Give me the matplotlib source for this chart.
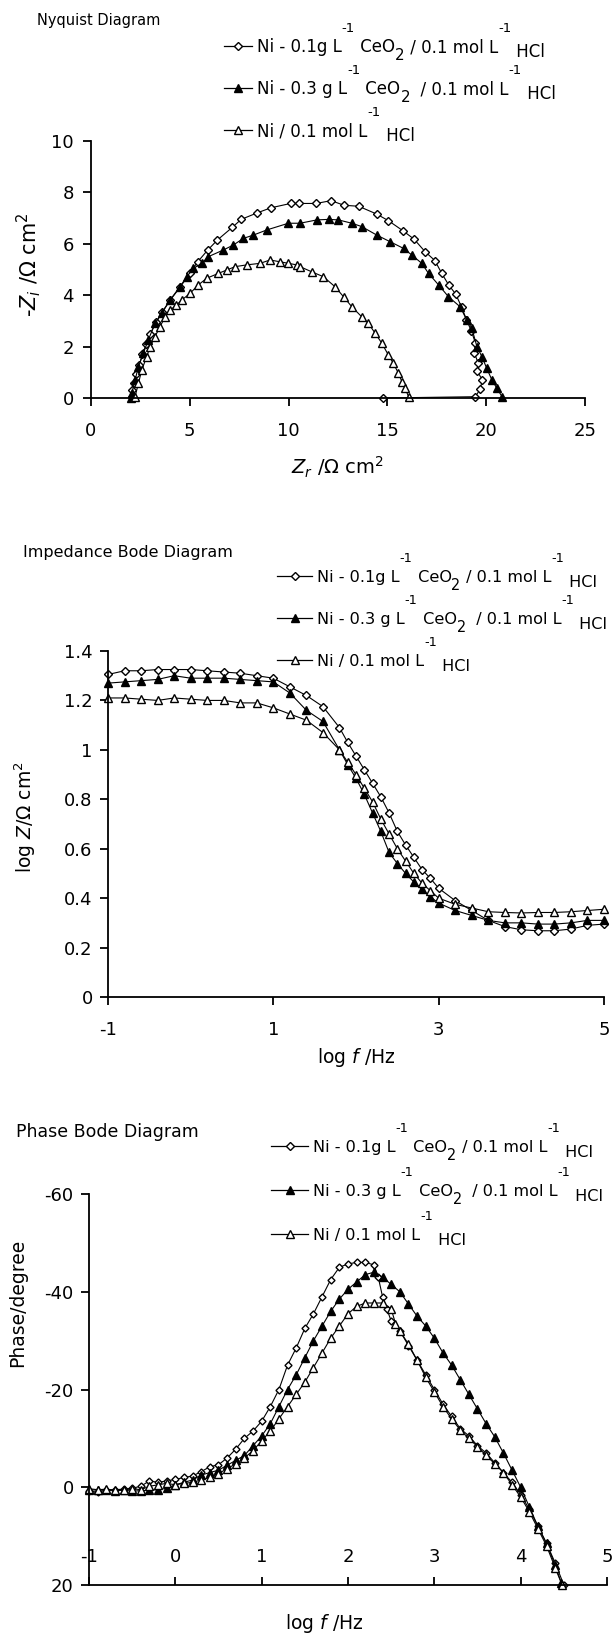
import matplotlib
matplotlib.use('Agg')
import matplotlib.pyplot as plt
from matplotlib.lines import Line2D

plt.rcParams['font.family'] = ['DejaVu Sans']
plt.rcParams['axes.unicode_minus'] = False

# ---------------- Nyquist : Zr et -Zi (ohm cm2) ----------------
nyq_zr_01 = [2.05, 2.1, 2.2, 2.3, 2.45, 2.6, 2.8, 3.0, 3.3, 3.6, 4.0, 4.5, 5.0, 5.4, 5.9, 6.4,
             7.15, 7.6, 8.4, 9.1, 10.1, 10.55, 11.4, 12.15, 12.8, 13.55, 14.45, 15.05, 15.8,
             16.35, 16.9, 17.4, 17.75, 18.1, 18.45, 18.75, 19.0, 19.25, 19.45, 19.4, 19.6,
             19.55, 19.8, 19.7, 19.45, 14.8]
nyq_zi_01 = [0.05, 0.3, 0.6, 0.95, 1.3, 1.7, 2.1, 2.5, 2.95, 3.35, 3.8, 4.3, 4.85, 5.3, 5.75,
             6.15, 6.64, 6.95, 7.2, 7.4, 7.57, 7.57, 7.57, 7.68, 7.5, 7.46, 7.16, 6.9, 6.5,
             6.18, 5.7, 5.35, 4.85, 4.4, 4.05, 3.55, 3.05, 2.6, 2.15, 1.75, 1.35, 1.05, 0.7,
             0.35, 0.05, 0.0]

nyq_zr_03 = [2.0, 2.06, 2.23, 2.4, 2.65, 2.9, 3.24, 3.58, 4.0, 4.5, 4.85, 5.18, 5.6, 5.94,
             6.7, 7.2, 7.71, 8.22, 8.9, 9.99, 10.58, 11.43, 12.02, 12.52, 13.2, 13.7, 14.46,
             15.14, 15.82, 16.24, 16.74, 17.08, 17.59, 18.09, 18.68, 19.02, 19.27, 19.53,
             19.78, 20.03, 20.29, 20.54, 20.8]
nyq_zi_03 = [0.0, 0.18, 0.7, 1.22, 1.74, 2.26, 2.9, 3.29, 3.81, 4.33, 4.72, 5.04, 5.24, 5.5,
             5.76, 5.95, 6.21, 6.34, 6.54, 6.8, 6.8, 6.93, 6.95, 6.93, 6.8, 6.67, 6.34, 6.08,
             5.82, 5.56, 5.24, 4.85, 4.4, 3.94, 3.55, 3.03, 2.72, 2.0, 1.61, 1.15, 0.7, 0.38,
             0.05]

nyq_zr_ni = [2.23, 2.4, 2.57, 2.82, 2.99, 3.24, 3.49, 3.75, 4.0, 4.3, 4.59, 5.01, 5.43, 5.86,
             6.45, 6.87, 7.29, 7.88, 8.56, 9.06, 9.57, 9.99, 10.41, 10.58, 11.17, 11.76,
             12.35, 12.78, 13.2, 13.7, 14.04, 14.38, 14.72, 15.05, 15.3, 15.56, 15.73, 15.9,
             16.07]
nyq_zi_ni = [0.05, 0.57, 1.09, 1.61, 2.0, 2.39, 2.77, 3.16, 3.42, 3.6, 3.81, 4.07, 4.4, 4.66,
             4.85, 4.98, 5.11, 5.18, 5.24, 5.37, 5.3, 5.24, 5.18, 5.11, 4.91, 4.72, 4.33,
             3.94, 3.55, 3.16, 2.9, 2.52, 2.13, 1.67, 1.35, 0.96, 0.64, 0.38, 0.05]

# ---------------- Bode impedance : log f et log |Z| ----------------
bode_logf = [-1.0, -0.8, -0.6, -0.4, -0.2, 0.0, 0.2, 0.4, 0.6, 0.8, 1.0, 1.2, 1.4, 1.6, 1.8,
             1.9, 2.0, 2.1, 2.2, 2.3, 2.4, 2.5, 2.6, 2.7, 2.8, 2.9, 3.0, 3.2, 3.4, 3.6, 3.8,
             4.0, 4.2, 4.4, 4.6, 4.8, 5.0]
bode_z_01 = [1.305, 1.32, 1.32, 1.325, 1.325, 1.325, 1.32, 1.315, 1.31, 1.30, 1.29, 1.255,
             1.22, 1.175, 1.09, 1.03, 0.975, 0.92, 0.865, 0.81, 0.745, 0.67, 0.615, 0.565,
             0.515, 0.48, 0.44, 0.39, 0.35, 0.31, 0.285, 0.272, 0.268, 0.268, 0.275, 0.29,
             0.295]
bode_z_03 = [1.27, 1.275, 1.28, 1.285, 1.30, 1.29, 1.29, 1.29, 1.285, 1.28, 1.275, 1.23,
             1.16, 1.115, 1.0, 0.94, 0.885, 0.82, 0.745, 0.67, 0.585, 0.54, 0.50, 0.465,
             0.435, 0.405, 0.38, 0.35, 0.33, 0.31, 0.30, 0.30, 0.295, 0.295, 0.30, 0.31, 0.31]
bode_z_ni = [1.21, 1.21, 1.205, 1.20, 1.21, 1.205, 1.20, 1.20, 1.19, 1.19, 1.17, 1.145,
             1.12, 1.07, 1.0, 0.95, 0.90, 0.845, 0.79, 0.72, 0.66, 0.60, 0.55, 0.50, 0.46,
             0.43, 0.40, 0.375, 0.36, 0.345, 0.342, 0.34, 0.342, 0.342, 0.345, 0.35, 0.355]

# ---------------- Bode phase : log f et phase (degres) ----------------
ph_logf_01 = [-1.0, -0.9, -0.8, -0.7, -0.6, -0.5, -0.4, -0.3, -0.2, -0.1, 0.0, 0.1, 0.2,
              0.3, 0.4, 0.5, 0.6, 0.7, 0.8, 0.9, 1.0, 1.1, 1.2, 1.3, 1.4, 1.5, 1.6, 1.7,
              1.8, 1.9, 2.0, 2.1, 2.2, 2.3, 2.35, 2.4, 2.45, 2.5, 2.6, 2.7, 2.8, 2.9, 3.0,
              3.1, 3.2, 3.3, 3.4, 3.5, 3.6, 3.7, 3.8, 3.9, 4.0, 4.1, 4.2, 4.3, 4.4, 4.5]
ph_01 = [0.8, 1.0, 0.6, 0.5, 0.4, 0.2, -0.2, -1.3, -1.0, -1.3, -1.6, -2.0, -2.3, -3.2, -4.2,
         -4.6, -6.0, -7.8, -10.0, -11.5, -13.5, -16.5, -20.0, -25.0, -28.5, -32.5, -35.5,
         -39.0, -42.5, -45.0, -45.7, -46.0, -46.0, -45.5, -43.0, -39.0, -36.5, -34.0, -32.0,
         -29.0, -26.0, -23.0, -20.0, -17.0, -14.5, -12.0, -10.5, -8.5, -7.0, -5.0, -3.0,
         -1.0, 1.5, 4.5, 8.0, 11.5, 15.5, 20.0]

ph_logf_03 = [-1.0, -0.9, -0.8, -0.7, -0.6, -0.5, -0.4, -0.3, -0.2, -0.1, 0.0, 0.1, 0.2,
              0.3, 0.4, 0.5, 0.6, 0.7, 0.8, 0.9, 1.0, 1.1, 1.2, 1.3, 1.4, 1.5, 1.6, 1.7,
              1.8, 1.9, 2.0, 2.1, 2.2, 2.3, 2.4, 2.5, 2.6, 2.7, 2.8, 2.9, 3.0, 3.1, 3.2,
              3.3, 3.4, 3.5, 3.6, 3.7, 3.8, 3.9, 4.0, 4.1, 4.2, 4.3, 4.4, 4.47]
ph_03 = [0.5, 0.6, 0.5, 0.7, 0.6, 0.8, 0.7, 0.6, 0.5, 0.2, -0.5, -1.0, -1.5, -2.5, -3.0,
         -3.5, -4.5, -5.5, -6.5, -8.5, -10.5, -13.0, -16.5, -20.0, -23.0, -26.5, -30.0,
         -33.0, -36.0, -38.5, -40.5, -42.0, -43.5, -44.0, -43.0, -41.5, -40.0, -37.5,
         -35.0, -33.0, -30.5, -27.5, -25.0, -22.0, -19.0, -16.0, -13.0, -10.3, -7.0, -3.5,
         0.0, 4.0, 8.0, 11.5, 16.0, 19.5]

ph_logf_ni = [-1.0, -0.9, -0.8, -0.7, -0.6, -0.5, -0.4, -0.3, -0.2, -0.1, 0.0, 0.1, 0.2,
              0.3, 0.4, 0.5, 0.6, 0.7, 0.8, 0.9, 1.0, 1.1, 1.2, 1.3, 1.4, 1.5, 1.6, 1.7,
              1.8, 1.9, 2.0, 2.1, 2.2, 2.3, 2.4, 2.5, 2.55, 2.6, 2.7, 2.8, 2.9, 3.0, 3.1,
              3.2, 3.3, 3.4, 3.5, 3.6, 3.7, 3.8, 3.9, 4.0, 4.1, 4.2, 4.3, 4.4, 4.48]
ph_ni = [0.3, 0.5, 0.4, 0.6, 0.5, 0.3, 0.5, -0.2, -0.5, -0.8, -0.5, -0.8, -1.0, -1.5, -2.0,
         -2.8, -3.8, -4.8, -6.0, -7.5, -9.5, -11.5, -14.0, -16.5, -19.0, -21.5, -24.5,
         -27.5, -30.5, -33.0, -35.5, -37.0, -37.7, -37.7, -37.7, -36.5, -33.5, -32.0,
         -29.3, -26.0, -22.5, -19.5, -16.5, -14.0, -11.7, -10.0, -8.3, -6.5, -4.8, -3.0,
         -0.5, 2.0, 5.0, 8.5, 12.0, 16.5, 20.0]

# styles des trois series
styles = {
    '01': dict(marker='D', markerfacecolor='white', markeredgecolor='black'),
    '03': dict(marker='^', markerfacecolor='black', markeredgecolor='black'),
    'ni': dict(marker='^', markerfacecolor='white', markeredgecolor='black'),
}
msize = {'01': 4.2, '03': 6.0, 'ni': 6.0}

W, H = 612, 1635
fig = plt.figure(figsize=(W / 100, H / 100), dpi=100)


def box(left, top, right, bottom):
    # rectangle en pixels -> coordonnees figure
    return [left / W, 1 - bottom / H, (right - left) / W, (bottom - top) / H]


def excel_axes(ax, xpad=11.5, ypad=5.5):
    for s in ['top', 'right']:
        ax.spines[s].set_visible(False)
    for s in ['left', 'bottom']:
        ax.spines[s].set_linewidth(1.3)
    ax.tick_params(direction='out', length=5.5, width=1.3, labelsize=13)
    ax.tick_params(axis='x', pad=xpad)
    ax.tick_params(axis='y', pad=ypad)


def fig_text(x, y, s, **kw):
    return fig.text(x / W, 1 - y / H, s, **kw)


def legend_row(y, x0, x1, key, pieces, size, ms):
    # petit trait avec le symbole au milieu
    xm = (x0 + x1) / 2
    fig.add_artist(Line2D([x0 / W, xm / W, x1 / W], [1 - y / H] * 3, transform=fig.transFigure,
                          color='black', lw=0.9, markevery=[1], markersize=ms, **styles[key]))
    renderer = fig.canvas.get_renderer()
    x = x1 + 5
    base = y + 6
    for txt, dy, scale in pieces:
        t = fig_text(x, base - dy, txt, fontsize=size * scale, va='baseline', ha='left')
        x = t.get_window_extent(renderer).x1


def legend_block(rows_y, x0, x1, size, ms_scale=1.0):
    rows = [
        ('01', [("Ni - 0.1g L", 0, 1), ("-1", 20, 0.8), (" CeO", 0, 1), ("2", -8, 0.9),
                (" / 0.1 mol L", 0, 1), ("-1", 20, 0.8), (" HCl", -5, 1)]),
        ('03', [("Ni - 0.3 g L", 0, 1), ("-1", 20, 0.8), (" CeO", 0, 1), ("2", -8, 0.9),
                ("  / 0.1 mol L", 0, 1), ("-1", 20, 0.8), (" HCl", -5, 1)]),
        ('ni', [("Ni / 0.1 mol L", 0, 1), ("-1", 20, 0.8), (" HCl", -5, 1)]),
    ]
    for y, (key, pieces) in zip(rows_y, rows):
        legend_row(y, x0, x1, key, pieces, size, msize[key] * ms_scale)


# ================= Diagramme de Nyquist =================
ax1 = fig.add_axes(box(91, 141, 585, 398))
for zr, zi, key in [(nyq_zr_01, nyq_zi_01, '01'), (nyq_zr_03, nyq_zi_03, '03'),
                    (nyq_zr_ni, nyq_zi_ni, 'ni')]:
    ax1.plot(zr, zi, color='black', lw=0.8, markersize=msize[key], clip_on=False, **styles[key])
ax1.set_xlim(0, 25)
ax1.set_ylim(0, 10)
ax1.set_xticks([0, 5, 10, 15, 20, 25])
ax1.set_yticks([0, 2, 4, 6, 8, 10])
excel_axes(ax1, xpad=11.5, ypad=7)

fig_text(37, 20, "Nyquist Diagram", fontsize=10.5, va='center', ha='left')
legend_block([46, 88, 130], 224, 252, 12)
fig_text(29, 265, r'-$Z_i$ /$\Omega$ cm$^2$', fontsize=15, rotation=90, va='center', ha='center')
fig_text(337, 467, r'$Z_r$ /$\Omega$ cm$^2$', fontsize=14, va='center', ha='center')

# ================= Bode impedance =================
ax2 = fig.add_axes(box(108, 651, 604, 997))
for z, key in [(bode_z_01, '01'), (bode_z_03, '03'), (bode_z_ni, 'ni')]:
    ax2.plot(bode_logf, z, color='black', lw=0.8, markersize=msize[key] * 1.05, clip_on=False,
             **styles[key])
ax2.set_xlim(-1, 5)
ax2.set_ylim(0, 1.4)
ax2.set_xticks([-1, 1, 3, 5])
ax2.set_yticks([0, 0.2, 0.4, 0.6, 0.8, 1.0, 1.2, 1.4])
ax2.set_yticklabels(['0', '0.2', '0.4', '0.6', '0.8', '1', '1.2', '1.4'])
excel_axes(ax2, xpad=11.5, ypad=5.5)

fig_text(23, 553, "Impedance Bode Diagram", fontsize=11.5, va='center', ha='left')
legend_block([576, 618, 660], 277, 312, 11.6)
fig_text(25, 817, r'log $Z$/$\Omega$ cm$^2$', fontsize=13.5, rotation=90, va='center', ha='center')
fig_text(356, 1057, r'log $f$ /Hz', fontsize=13.5, va='center', ha='center')

# ================= Bode phase =================
ax3 = fig.add_axes(box(89, 1194, 607, 1585))
for lf, ph, key in [(ph_logf_01, ph_01, '01'), (ph_logf_03, ph_03, '03'),
                    (ph_logf_ni, ph_ni, 'ni')]:
    ax3.plot(lf, ph, color='black', lw=0.8, markersize=msize[key] * 0.85, clip_on=False,
             **styles[key])
ax3.set_xlim(-1, 5)
ax3.set_ylim(20, -60)
ax3.set_xticks([-1, 0, 1, 2, 3, 4, 5])
ax3.set_yticks([-60, -40, -20, 0, 20])
excel_axes(ax3, ypad=5.5)
ax3.tick_params(axis='x', direction='in', pad=-27)

fig_text(16, 1132, "Phase Bode Diagram", fontsize=12.5, va='center', ha='left')
legend_block([1146, 1190, 1234], 271, 308, 11.6)
fig_text(18, 1303, 'Phase/degree', fontsize=13.5, rotation=90, va='center', ha='center')
fig_text(324, 1623, r'log $f$ /Hz', fontsize=13.5, va='center', ha='center')

plt.savefig('out.png', dpi=100)
